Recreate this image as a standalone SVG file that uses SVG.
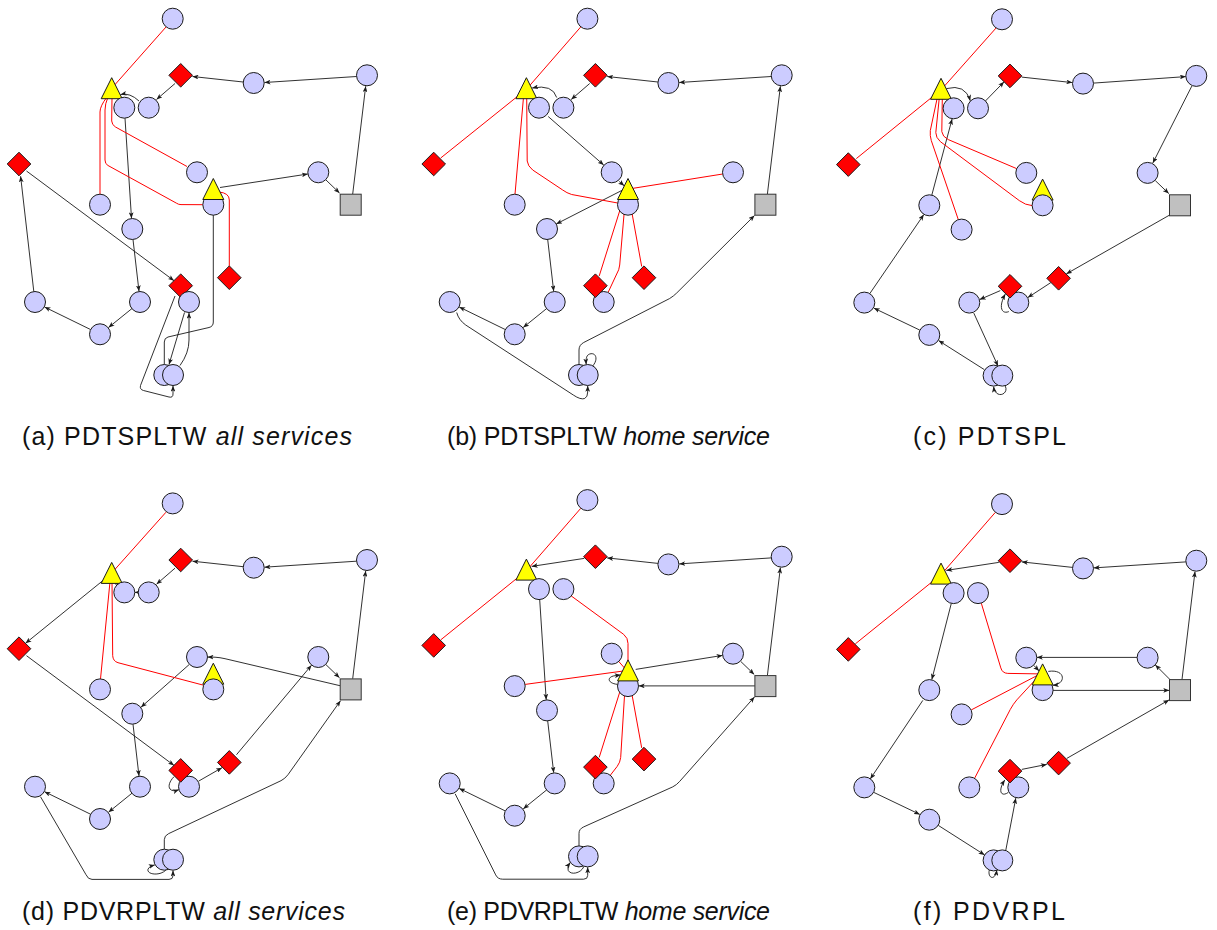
<svg xmlns="http://www.w3.org/2000/svg" xmlns:xlink="http://www.w3.org/1999/xlink" width="1217" height="930" viewBox="0 0 1217 930">
<style>
.cu{fill:#ccccff;stroke:#1a1a1a;stroke-width:1}
.dm{fill:#ff0000;stroke:#1a1a1a;stroke-width:1}
.tr{fill:#ffff00;stroke:#1a1a1a;stroke-width:1}
.sq{fill:#c0c0c0;stroke:#333333;stroke-width:1}
.e{fill:none;stroke:#1a1a1a;stroke-width:0.9;marker-end:url(#ah)}
.w{fill:none;stroke:#ff0000;stroke-width:1}
.lb{font-family:"Liberation Sans",Arial,sans-serif;font-size:25px;fill:#111}
.it{font-style:italic}
</style>
<defs>
<marker id="ah" viewBox="0 0 10 8" refX="10" refY="4" markerWidth="6" markerHeight="4.8" orient="auto" markerUnits="userSpaceOnUse"><path d="M0,0 L10,4 L0,8 L2.5,4 z" fill="#1a1a1a"/></marker>
<circle id="cu" class="cu" r="10.5"/>
<polygon id="dm" class="dm" points="0,-11.8 11.8,0 0,11.8 -11.8,0"/>
<polygon id="tr" class="tr" points="0,-10.5 10.5,10.5 -10.5,10.5"/>
<rect id="sq" class="sq" x="-10.5" y="-10.5" width="21" height="21"/>
</defs>
<rect width="1217" height="930" fill="#fff"/>

<!-- (a) -->
<g id="pa" transform="translate(0,0)">
<g id="a-edges">
<path class="e" d="M352.7,194 L365.7,86.2"/>
<path class="e" d="M356.5,76.5 L264.5,82.5"/>
<path class="e" d="M243.2,82 L192.5,76.5"/>
<path class="e" d="M175,83.5 L156.5,99.5"/>
<path class="e" d="M139,101 Q130,92.5 120.5,94.5"/>
<path class="e" d="M113,90 L118.5,97.8"/>
<path class="e" d="M125,118.2 L131.5,218.3"/>
<path class="e" d="M133,239.5 L139,291.3"/>
<path class="e" d="M132,308.5 L108.5,327.5"/>
<path class="e" d="M90.5,329.5 L44.5,307"/>
<path class="e" d="M33.8,291.5 L20.6,176.2"/>
<path class="e" d="M26.5,171 L174,280.7"/>
<path class="e" d="M175,296 L140.5,385.5 Q139.5,389.5 143.5,390.5 L169,397 Q173,398 173,394 L173,385.8"/>
<path class="e" d="M180,365.5 Q189,353 189,340 L189,312.8"/>
<path class="e" d="M184.5,312.5 L169,364.5"/>
<path class="e" d="M164.3,364.5 L164.3,342 Q164.3,338 168,337 L209,327.5 Q213.3,326.5 213.3,322 L213.3,200"/>
<path class="e" d="M220,187.5 L307.8,174"/>
<path class="e" d="M326,180 L339.5,193"/>
<path class="w" d="M166,27 L112,88"/>
<path class="w" d="M107,97 Q100,106 100,112 L100,194.2"/>
<path class="w" d="M108,97 Q105,104 105,110 L105,160 Q105,164 108,165.5 L176.7,203.3 Q178.5,204.6 181,204.6 L202.8,204.7"/>
<path class="w" d="M112,98 L111.7,121 Q112,125 115.5,127 L187,166.5"/>
<path class="w" d="M219,192 Q229.3,193 229.3,200 L229.3,266"/>
</g>
<g id="a-n1"><use href="#cu" x="172.7" y="18.7"/></g>
<g id="a-d1"><use href="#dm" x="180.7" y="75.3"/></g>
<g id="a-c2"><use href="#cu" x="253.7" y="83"/></g>
<g id="a-c3"><use href="#cu" x="367" y="75.3"/></g>
<g id="a-c5"><use href="#cu" x="148.7" y="107.7"/></g>
<g id="a-t1"><use href="#tr" x="111.7" y="88.2"/></g>
<g id="a-c4"><use href="#cu" x="124.3" y="107.7"/></g>
<g id="a-d2"><use href="#dm" x="19" y="164"/></g>
<g id="a-c6"><use href="#cu" x="197" y="172.3"/></g>
<g id="a-c7"><use href="#cu" x="318.3" y="172.3"/></g>
<g id="a-s"><use href="#sq" x="350.7" y="204.7"/></g>
<g id="a-c9"><use href="#cu" x="100" y="204.7"/></g>
<g id="a-c10"><use href="#cu" x="132.3" y="229"/></g>
<g id="a-d4"><use href="#dm" x="229.3" y="277.7"/></g>
<g id="a-c11"><use href="#cu" x="35" y="302"/></g>
<g id="a-c12"><use href="#cu" x="140" y="302"/></g>
<g id="a-d3"><use href="#dm" x="180.7" y="285.7"/></g>
<g id="a-c13"><use href="#cu" x="189" y="302"/></g>
<g id="a-c14"><use href="#cu" x="100" y="334.3"/></g>
<g id="a-c15"><use href="#cu" x="164.3" y="375"/></g>
<g id="a-c16"><use href="#cu" x="173" y="375"/></g>
<g id="a-c8"><use href="#cu" x="213.3" y="204.7"/></g>
<g id="a-t2"><use href="#tr" x="213.3" y="189"/></g>
</g>

<!-- (b) -->
<g id="pb" transform="translate(414.7,0)">
<g id="b-edges">
<path class="e" d="M356.5,76.5 L264.5,82.5"/>
<path class="e" d="M243.2,82 L192.5,76.5"/>
<path class="e" d="M175,83.5 L156.5,99.5"/>
<path class="e" d="M142,97.5 Q138,84 117.5,88"/>
<path class="e" d="M113,90 L118.5,97.8"/>
<path class="e" d="M133.5,116.5 L189,165"/>
<path class="e" d="M204.5,181.5 L209.5,185.8"/>
<path class="e" d="M208,190 L141.5,224"/>
<path class="e" d="M133,239.5 L139,291.3"/>
<path class="e" d="M132,308.5 L108.5,327.5"/>
<path class="e" d="M90.5,329.5 L44.5,307"/>
<path class="e" d="M42,312.5 Q44,320 51,325 L158.6,395 Q166,400 170,398.5 Q173,397 173,392 L173,385.8"/>
<path class="e" d="M178,366 C184,359 181,352 175,354 C172,355 171,358 171.5,364.5"/>
<path class="e" d="M164.3,364.5 L164.3,350 Q164.3,345 169,342.5 L255,298.5 Q259,296 262,293 L339.8,215.5"/>
<path class="e" d="M352.7,194 L365.7,86.2"/>
<path class="w" d="M166,27 L112,89 L26,158"/>
<path class="w" d="M109,95 L100.3,194.2"/>
<path class="w" d="M112,95 L112.5,161 Q113,166 118,170 L148,190 Q152,193 157,194.5 L203,203"/>
<path class="w" d="M214,189 L308,174"/>
<path class="w" d="M210,195 L184.5,276"/>
<path class="w" d="M211,195 L205,265 Q204.5,270 202,274 L193.6,292"/>
<path class="w" d="M214,195 L227,266.5"/>
</g>
<g id="b-n1"><use href="#cu" x="172.7" y="18.7"/></g>
<g id="b-d1"><use href="#dm" x="180.7" y="75.3"/></g>
<g id="b-c2"><use href="#cu" x="253.7" y="83"/></g>
<g id="b-c3"><use href="#cu" x="367" y="75.3"/></g>
<g id="b-c5"><use href="#cu" x="148.7" y="107.7"/></g>
<g id="b-t1"><use href="#tr" x="111.7" y="88.2"/></g>
<g id="b-c4"><use href="#cu" x="124.3" y="107.7"/></g>
<g id="b-d2"><use href="#dm" x="19" y="164"/></g>
<g id="b-c6"><use href="#cu" x="197" y="172.3"/></g>
<g id="b-c7"><use href="#cu" x="318.3" y="172.3"/></g>
<g id="b-s"><use href="#sq" x="350.7" y="204.7"/></g>
<g id="b-c9"><use href="#cu" x="100" y="204.7"/></g>
<g id="b-c10"><use href="#cu" x="132.3" y="229"/></g>
<g id="b-d4"><use href="#dm" x="229.3" y="277.7"/></g>
<g id="b-c11"><use href="#cu" x="35" y="302"/></g>
<g id="b-c12"><use href="#cu" x="140" y="302"/></g>
<g id="b-c13"><use href="#cu" x="189" y="302"/></g>
<g id="b-d3"><use href="#dm" x="180.7" y="285.7"/></g>
<g id="b-c14"><use href="#cu" x="100" y="334.3"/></g>
<g id="b-c15"><use href="#cu" x="164.3" y="375"/></g>
<g id="b-c16"><use href="#cu" x="173" y="375"/></g>
<g id="b-c8"><use href="#cu" x="213.3" y="204.7"/></g>
<g id="b-t2"><use href="#tr" x="213.3" y="189"/></g>
</g>

<!-- (c) -->
<g id="pc" transform="translate(829.3,0.6)">
<g id="c-edges">
<path class="e" d="M117,88 Q136,83 141,100.2"/>
<path class="e" d="M156,100.5 L174.8,81.2"/>
<path class="e" d="M192.5,76.5 L243,82"/>
<path class="e" d="M264.2,82.5 L356.5,76"/>
<path class="e" d="M362.5,85.5 L323.5,162.5"/>
<path class="e" d="M326,180 L339.5,193"/>
<path class="e" d="M340.2,214.5 L237,273.3"/>
<path class="e" d="M221.5,282 L198.5,297"/>
<path class="e" d="M179.5,311 C172,314 169,306 176,293.5"/>
<path class="e" d="M171,290 L150.3,299"/>
<path class="e" d="M144.5,312.5 L168.7,365.4"/>
<path class="e" d="M176,385.5 C180,394 166,399 164.3,386"/>
<path class="e" d="M155,369 L109.3,340"/>
<path class="e" d="M90.5,329.5 L44.5,307.5"/>
<path class="e" d="M40.5,293 L94.5,214"/>
<path class="e" d="M102.5,194.5 L122.8,118.3"/>
<path class="e" d="M121,108 L118,99.5"/>
<path class="w" d="M168,26 L112,89 L27,158"/>
<path class="w" d="M108,97 L101,130 Q100.5,135 102,140 L129,219"/>
<path class="w" d="M110,97 L106.5,132 Q106.5,137 111,141 L190,200 Q196,204.5 202.8,205"/>
<path class="w" d="M113,97 L112.5,131 Q113,136 119,139 L187.3,168"/>
</g>
<g id="c-n1"><use href="#cu" x="172.7" y="18.7"/></g>
<g id="c-d1"><use href="#dm" x="180.7" y="75.3"/></g>
<g id="c-c2"><use href="#cu" x="253.7" y="83"/></g>
<g id="c-c3"><use href="#cu" x="367" y="75.3"/></g>
<g id="c-c5"><use href="#cu" x="148.7" y="107.7"/></g>
<g id="c-t1"><use href="#tr" x="111.7" y="88.2"/></g>
<g id="c-c4"><use href="#cu" x="124.3" y="107.7"/></g>
<g id="c-d2"><use href="#dm" x="19" y="164"/></g>
<g id="c-c6"><use href="#cu" x="197" y="172.3"/></g>
<g id="c-c7"><use href="#cu" x="318.3" y="172.3"/></g>
<g id="c-s"><use href="#sq" x="350.7" y="204.7"/></g>
<g id="c-c9"><use href="#cu" x="100" y="204.7"/></g>
<g id="c-c10"><use href="#cu" x="132.3" y="229"/></g>
<g id="c-d4"><use href="#dm" x="229.3" y="277.7"/></g>
<g id="c-c11"><use href="#cu" x="35" y="302"/></g>
<g id="c-c12"><use href="#cu" x="140" y="302"/></g>
<g id="c-c13"><use href="#cu" x="189" y="302"/></g>
<g id="c-d3"><use href="#dm" x="180.7" y="285.7"/></g>
<g id="c-c14"><use href="#cu" x="100" y="334.3"/></g>
<g id="c-c15"><use href="#cu" x="164.3" y="375"/></g>
<g id="c-c16"><use href="#cu" x="173" y="375"/></g>
<g id="c-t2"><use href="#tr" x="213.3" y="189"/></g>
<g id="c-c8"><use href="#cu" x="213.3" y="204.7"/></g>
</g>

<!-- (d) -->
<g id="pd" transform="translate(0,484.7)">
<g id="d-edges">
<path class="e" d="M356.5,76.5 L264.5,82.5"/>
<path class="e" d="M243.2,82 L192.5,76.5"/>
<path class="e" d="M175,83.5 L156.5,99.5"/>
<path class="e" d="M138.5,107.7 L134.8,107.7"/>
<path class="e" d="M119,101 L114,95"/>
<path class="e" d="M104,95 L25.5,158.6"/>
<path class="e" d="M26.5,171 L174,280.7"/>
<path class="e" d="M174,292 C166,300 168,309 178.8,305"/>
<path class="e" d="M198.5,296.5 L222,283"/>
<path class="e" d="M236.5,270 L311.5,180.5"/>
<path class="e" d="M326,180 L339.5,193"/>
<path class="e" d="M340,201 L225,174 Q220,172.8 215,172.5 L207.5,172.4"/>
<path class="e" d="M189,180 L141,222.5"/>
<path class="e" d="M133,239.5 L139,291.3"/>
<path class="e" d="M132,308.5 L108.5,327.5"/>
<path class="e" d="M90.5,329.5 L44.5,307"/>
<path class="e" d="M40.5,312 L86,390 Q88,394.7 92,394.7 L169,394.7 Q173,394.7 173,391 L173,385.8"/>
<path class="e" d="M166,385.3 C160,391.5 146.5,390 148,384.5 C149,382 152,381 154.8,380.2"/>
<path class="e" d="M164.3,364.5 L164.3,355 Q164.3,351 168.5,349 L281,296 Q285,294 288,290 L340.5,216"/>
<path class="e" d="M352.7,194 L365.7,86.2"/>
<path class="w" d="M166,27.5 L112,88"/>
<path class="w" d="M110,97 L100.5,194.2"/>
<path class="w" d="M112,97 L112.7,171 Q113,176.5 118,178 L203.5,200.5"/>
</g>
<g id="d-n1"><use href="#cu" x="172.7" y="18.7"/></g>
<g id="d-d1"><use href="#dm" x="180.7" y="75.3"/></g>
<g id="d-c2"><use href="#cu" x="253.7" y="83"/></g>
<g id="d-c3"><use href="#cu" x="367" y="75.3"/></g>
<g id="d-c5"><use href="#cu" x="148.7" y="107.7"/></g>
<g id="d-t1"><use href="#tr" x="111.7" y="88.2"/></g>
<g id="d-c4"><use href="#cu" x="124.3" y="107.7"/></g>
<g id="d-d2"><use href="#dm" x="19" y="164"/></g>
<g id="d-c6"><use href="#cu" x="197" y="172.3"/></g>
<g id="d-c7"><use href="#cu" x="318.3" y="172.3"/></g>
<g id="d-s"><use href="#sq" x="350.7" y="204.7"/></g>
<g id="d-c9"><use href="#cu" x="100" y="204.7"/></g>
<g id="d-c10"><use href="#cu" x="132.3" y="229"/></g>
<g id="d-d4"><use href="#dm" x="229.3" y="277.7"/></g>
<g id="d-c11"><use href="#cu" x="35" y="302"/></g>
<g id="d-c12"><use href="#cu" x="140" y="302"/></g>
<g id="d-c13"><use href="#cu" x="189" y="302"/></g>
<g id="d-d3"><use href="#dm" x="180.7" y="285.7"/></g>
<g id="d-c14"><use href="#cu" x="100" y="334.3"/></g>
<g id="d-c15"><use href="#cu" x="164.3" y="375"/></g>
<g id="d-c16"><use href="#cu" x="173" y="375"/></g>
<g id="d-t2"><use href="#tr" x="213.3" y="189"/></g>
<g id="d-c8"><use href="#cu" x="213.3" y="204.7"/></g>
</g>

<!-- (e) -->
<g id="pe" transform="translate(414.7,481.4)">
<g id="e-edges">
<path class="e" d="M356.5,76.5 L264.5,82.5"/>
<path class="e" d="M243.2,82 L192.5,76.5"/>
<path class="e" d="M169.5,77 L117,85"/>
<path class="e" d="M113,90 L118.5,97.8"/>
<path class="e" d="M125,118.2 L131.5,218.3"/>
<path class="e" d="M133,239.5 L139,291.3"/>
<path class="e" d="M132,308.5 L108.5,327.5"/>
<path class="e" d="M90.5,329.5 L44.5,307"/>
<path class="e" d="M40.5,312.5 L81,393.5 Q83,397.8 88,397.8 L169,397.8 Q173,397.8 173,394 L173,385.8"/>
<path class="e" d="M169,385.5 C166,392 156,394 153.5,389 Q152,386 155.5,381"/>
<path class="e" d="M164.3,364.5 L164.3,352 Q164.3,347.5 169,345.5 L258,305.5 Q262,303.5 265,300 L339.8,215.5"/>
<path class="e" d="M340.2,204.5 L224,204.5"/>
<path class="e" d="M203,203 C193,202 192,196 199,194.5 L206,193.5"/>
<path class="e" d="M221,188 L307.8,174"/>
<path class="e" d="M326,180 L339.5,193"/>
<path class="e" d="M352.7,194 L365.7,86.2"/>
<path class="w" d="M166,27 L112,89 L26,158.5"/>
<path class="w" d="M156.5,114.5 L209,153 Q213.3,156.5 213.3,162 L213.3,185"/>
<path class="w" d="M204,180 L211,188"/>
<path class="w" d="M110.5,203 L213,189"/>
<path class="w" d="M210,195 L184.5,276"/>
<path class="w" d="M211,195 L206,276 Q205.5,281 202.5,285 L195.5,294"/>
<path class="w" d="M214,195 L227,266.5"/>
</g>
<g id="e-n1"><use href="#cu" x="172.7" y="18.7"/></g>
<g id="e-d1"><use href="#dm" x="180.7" y="75.3"/></g>
<g id="e-c2"><use href="#cu" x="253.7" y="83"/></g>
<g id="e-c3"><use href="#cu" x="367" y="75.3"/></g>
<g id="e-c5"><use href="#cu" x="148.7" y="107.7"/></g>
<g id="e-t1"><use href="#tr" x="111.7" y="88.2"/></g>
<g id="e-c4"><use href="#cu" x="124.3" y="107.7"/></g>
<g id="e-d2"><use href="#dm" x="19" y="164"/></g>
<g id="e-c6"><use href="#cu" x="197" y="172.3"/></g>
<g id="e-c7"><use href="#cu" x="318.3" y="172.3"/></g>
<g id="e-s"><use href="#sq" x="350.7" y="204.7"/></g>
<g id="e-c9"><use href="#cu" x="100" y="204.7"/></g>
<g id="e-c10"><use href="#cu" x="132.3" y="229"/></g>
<g id="e-d4"><use href="#dm" x="229.3" y="277.7"/></g>
<g id="e-c11"><use href="#cu" x="35" y="302"/></g>
<g id="e-c12"><use href="#cu" x="140" y="302"/></g>
<g id="e-c13"><use href="#cu" x="189" y="302"/></g>
<g id="e-d3"><use href="#dm" x="180.7" y="285.7"/></g>
<g id="e-c14"><use href="#cu" x="100" y="334.3"/></g>
<g id="e-c15"><use href="#cu" x="164.3" y="375"/></g>
<g id="e-c16"><use href="#cu" x="173" y="375"/></g>
<g id="e-c8"><use href="#cu" x="213.3" y="204.7"/></g>
<g id="e-t2"><use href="#tr" x="213.3" y="189"/></g>
</g>

<!-- (f) -->
<g id="pf" transform="translate(829.3,485.4)">
<g id="f-edges">
<path class="e" d="M356.5,76.5 L264.5,82.5"/>
<path class="e" d="M243.2,82 L192.5,76.5"/>
<path class="e" d="M169.5,77 L117,85"/>
<path class="e" d="M113,90 L118.5,97.8"/>
<path class="e" d="M122,118 L102.5,194.2"/>
<path class="e" d="M93.5,215 L41,293.5"/>
<path class="e" d="M44.5,307 L90.5,329"/>
<path class="e" d="M109,340 L155.3,369.5"/>
<path class="e" d="M160,384.5 C158,393 166,396 167.5,384.5"/>
<path class="e" d="M176.5,364.8 L186.5,312.7"/>
<path class="e" d="M179,307 C172,312 168,306 175.5,294.5"/>
<path class="e" d="M192.5,284 L217.5,279"/>
<path class="e" d="M237.5,273 L339.8,214.5"/>
<path class="e" d="M352.7,194 L365.7,86.2"/>
<path class="e" d="M341,194.5 L326,179.5"/>
<path class="e" d="M307.8,172 L207.5,172"/>
<path class="e" d="M204.5,180 L209.8,185.5"/>
<path class="e" d="M219,186 C232,184 236,192 231,197 Q228,199.5 223.5,200"/>
<path class="e" d="M223.8,205 L340,205"/>
<path class="w" d="M166,27 L112,89 L26,158.5"/>
<path class="w" d="M152,117.8 L171.5,182.5 Q173,187.8 178.5,188 L210,188.5"/>
<path class="w" d="M210,189 L142,224.5"/>
<path class="w" d="M211,189 L187.5,214.5 Q184,218.5 181,224 L145.5,292.5"/>
</g>
<g id="f-n1"><use href="#cu" x="172.7" y="18.7"/></g>
<g id="f-d1"><use href="#dm" x="180.7" y="75.3"/></g>
<g id="f-c2"><use href="#cu" x="253.7" y="83"/></g>
<g id="f-c3"><use href="#cu" x="367" y="75.3"/></g>
<g id="f-c5"><use href="#cu" x="148.7" y="107.7"/></g>
<g id="f-t1"><use href="#tr" x="111.7" y="88.2"/></g>
<g id="f-c4"><use href="#cu" x="124.3" y="107.7"/></g>
<g id="f-d2"><use href="#dm" x="19" y="164"/></g>
<g id="f-c6"><use href="#cu" x="197" y="172.3"/></g>
<g id="f-c7"><use href="#cu" x="318.3" y="172.3"/></g>
<g id="f-s"><use href="#sq" x="350.7" y="204.7"/></g>
<g id="f-c9"><use href="#cu" x="100" y="204.7"/></g>
<g id="f-c10"><use href="#cu" x="132.3" y="229"/></g>
<g id="f-d4"><use href="#dm" x="229.3" y="277.7"/></g>
<g id="f-c11"><use href="#cu" x="35" y="302"/></g>
<g id="f-c12"><use href="#cu" x="140" y="302"/></g>
<g id="f-c13"><use href="#cu" x="189" y="302"/></g>
<g id="f-d3"><use href="#dm" x="180.7" y="285.7"/></g>
<g id="f-c14"><use href="#cu" x="100" y="334.3"/></g>
<g id="f-c15"><use href="#cu" x="164.3" y="375"/></g>
<g id="f-c16"><use href="#cu" x="173" y="375"/></g>
<g id="f-c8"><use href="#cu" x="213.3" y="204.7"/></g>
<g id="f-t2"><use href="#tr" x="213.3" y="189"/></g>
</g>

<!-- captions -->
<g id="captions">
<text class="lb" x="22" y="445" textLength="330" lengthAdjust="spacing">(a) PDTSPLTW <tspan class="it">all services</tspan></text>
<text class="lb" x="447" y="445" textLength="323" lengthAdjust="spacing">(b) PDTSPLTW <tspan class="it">home service</tspan></text>
<text class="lb" x="913" y="445" textLength="153" lengthAdjust="spacing">(c) PDTSPL</text>
<text class="lb" x="22" y="920" textLength="323" lengthAdjust="spacing">(d) PDVRPLTW <tspan class="it">all services</tspan></text>
<text class="lb" x="447" y="920" textLength="323" lengthAdjust="spacing">(e) PDVRPLTW <tspan class="it">home service</tspan></text>
<text class="lb" x="913" y="920" textLength="152" lengthAdjust="spacing">(f) PDVRPL</text>
</g>
</svg>
